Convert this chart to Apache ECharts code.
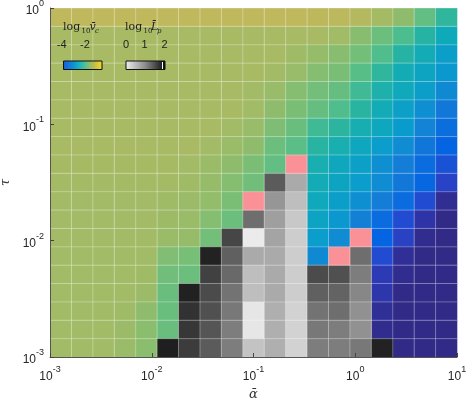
<!DOCTYPE html>
<html>
<head>
<meta charset="utf-8">
<script src="https://cdn.jsdelivr.net/npm/echarts@6/dist/echarts.min.js"></script>
<style>
  html, body { margin: 0; padding: 0; background: #fff; }
  #chart { width: 467px; height: 400px; }
</style>
</head>
<body>
<div id="chart"></div>
<script>
// grid: 19 x 19 log-spaced cells, alpha 1e-3..1e1, tau 1e-3..1e0
const nCol = 19, nRow = 19;
const xLogMin = -3, xLogMax = 1;
const yLogMin = -3, yLogMax = 0;
const xTicks = [0.001, 0.01, 0.1, 1, 10];
const yTicks = [0.001, 0.01, 0.1, 1];

// log10 vc per cell, rows listed from the top (tau = 1) down to tau = 1e-3
// null = cell drawn as Lp (gray) or as a pink marker
const vcRows = [
  [-0.40,-0.40,-0.40,-0.40,-0.40,-0.40,-0.40,-0.40,-0.40,-0.40,-0.40,-0.40,-0.44,-0.48,-0.60,-0.88,-1.28,-1.80,-2.32],
  [-0.80,-0.80,-0.80,-0.80,-0.80,-0.80,-0.80,-0.80,-0.80,-0.80,-0.80,-0.80,-0.80,-0.96,-1.36,-1.68,-2.04,-2.44,-2.80],
  [-0.80,-0.80,-0.80,-0.80,-0.80,-0.80,-0.80,-0.80,-0.80,-0.80,-0.80,-1.00,-1.20,-1.36,-1.60,-2.00,-2.44,-2.76,-3.12],
  [-0.80,-0.80,-0.80,-0.80,-0.80,-0.80,-0.80,-0.80,-0.80,-0.80,-0.92,-1.16,-1.40,-1.52,-1.92,-2.32,-2.72,-2.96,-3.24],
  [-0.80,-0.80,-0.80,-0.80,-0.80,-0.80,-0.80,-0.80,-0.80,-0.92,-1.16,-1.40,-1.60,-1.76,-2.16,-2.56,-2.84,-3.12,-3.44],
  [-0.80,-0.80,-0.80,-0.80,-0.80,-0.80,-0.80,-0.80,-0.80,-0.96,-1.28,-1.52,-1.76,-2.00,-2.40,-2.76,-3.08,-3.36,-3.68],
  [-0.80,-0.80,-0.80,-0.80,-0.80,-0.80,-0.80,-0.80,-0.96,-1.16,-1.48,-1.72,-2.16,-2.36,-2.68,-2.88,-3.20,-3.52,-3.84],
  [-0.80,-0.80,-0.80,-0.80,-0.80,-0.80,-0.80,-0.92,-1.12,-1.28,-1.68,-1.88,-2.40,-2.64,-2.88,-3.16,-3.40,-3.72,-4.00],
  [-0.84,-0.84,-0.84,-0.84,-0.84,-0.84,-0.92,-1.12,-1.28,-1.52,-1.80, null,-2.64,-2.88,-3.08,-3.36,-3.60,-3.88,-4.24],
  [-0.88,-0.88,-0.88,-0.88,-0.88,-0.88,-1.00,-1.20,-1.40,-1.64, null, null,-2.76,-2.96,-3.16,-3.40,-3.68,-3.96,-4.48],
  [-0.92,-0.92,-0.92,-0.92,-0.92,-1.00,-1.08,-1.24,-1.52, null, null, null,-2.84,-3.12,-3.36,-3.60,-3.88,-4.32,-5.08],
  [-0.92,-0.92,-0.92,-0.92,-0.92,-1.04,-1.12,-1.40,-1.68, null, null, null,-3.00,-3.24,-3.56,-3.88,-4.32,-4.88,-5.20],
  [-0.92,-0.92,-0.92,-0.92,-0.92,-1.12,-1.20,-1.60, null, null, null, null,-3.16,-3.40, null,-4.00,-4.52,-5.12,-5.20],
  [-0.96,-0.96,-0.96,-0.96,-0.96,-1.44,-1.56, null, null, null, null, null,-3.44, null, null,-4.32,-5.04,-5.20,-5.20],
  [-0.96,-0.96,-0.96,-0.96,-1.00,-1.64,-1.68, null, null, null, null, null, null, null, null,-4.72,-5.12,-5.20,-5.20],
  [-0.96,-0.96,-0.96,-0.96,-1.08,-1.72, null, null, null, null, null, null, null, null, null,-4.84,-5.20,-5.20,-5.20],
  [-0.96,-0.96,-0.96,-1.00,-1.28,-1.72, null, null, null, null, null, null, null, null, null,-5.04,-5.20,-5.20,-5.20],
  [-0.96,-0.96,-0.96,-1.08,-1.32,-1.72, null, null, null, null, null, null, null, null, null,-5.12,-5.20,-5.20,-5.20],
  [-0.96,-0.96,-0.96,-1.12,-1.32, null, null, null, null, null, null, null, null, null, null, null,-5.20,-5.20,-5.20]
];

// log10 Lp cells: [column, row from top, value]
const lpCells = [
  [5,18,1.76],
  [6,15,1.74],[6,16,1.61],[6,17,1.57],[6,18,1.53],
  [7,13,1.73],[7,14,1.49],[7,15,1.41],[7,16,1.37],[7,17,1.33],[7,18,1.29],
  [8,12,1.45],[8,13,1.25],[8,14,1.18],[8,15,1.10],[8,16,1.06],[8,17,1.02],[8,18,1.02],
  [9,11,1.14],[9,12,0.16],[9,13,0.67],[9,14,0.51],[9,15,0.51],[9,16,0.20],[9,17,0.20],[9,18,0.47],
  [10,9,1.29],[10,10,0.82],[10,11,0.75],[10,12,0.71],[10,13,0.67],[10,14,0.67],[10,15,0.67],[10,16,0.63],[10,17,0.63],[10,18,0.63],
  [11,9,0.67],[11,10,0.51],[11,11,0.43],[11,12,0.39],[11,13,0.39],[11,14,0.39],[11,15,0.39],[11,16,0.35],[11,17,0.35],[11,18,0.35],
  [12,14,1.41],[12,15,1.25],[12,16,1.10],[12,17,1.06],[12,18,1.02],
  [13,14,1.37],[13,15,1.22],[13,16,1.14],[13,17,1.02],[13,18,1.02],
  [14,13,1.14],[14,14,1.02],[14,15,0.94],[14,16,0.86],[14,17,0.86],[14,18,1.06],
  [15,18,1.73]
];

// transition cells (pink): [column, row from top]
const pinkCells = [[11,8],[9,10],[14,12],[13,13]];

const vcRange = [-5.2, -0.4];
const lpRange = [0, 2];
const vcColors = ['#322a87','#2d37af','#2846cd','#0564e1','#147dd7','#0a9bcd','#0faab9',
                  '#28b4a0','#50be8c','#73be78','#96bc69','#a8ba64','#c0b85c'];

function xEdge(i) { return Math.pow(10, xLogMin + (xLogMax - xLogMin) * i / nCol); }
function yEdge(j) { return Math.pow(10, yLogMin + (yLogMax - yLogMin) * j / nRow); }

// data item: [alphaCenter, tauCenter, value, col, rowTop]
function cellItem(col, rowTop, val) {
  const rb = nRow - 1 - rowTop;
  return [Math.sqrt(xEdge(col) * xEdge(col + 1)), Math.sqrt(yEdge(rb) * yEdge(rb + 1)), val, col, rowTop];
}

const vcData = [];
vcRows.forEach(function (row, r) {
  row.forEach(function (v, c) { if (v !== null) vcData.push(cellItem(c, r, v)); });
});
const lpData = lpCells.map(function (d) { return cellItem(d[0], d[1], d[2]); });
const pinkData = pinkCells.map(function (d) { return cellItem(d[0], d[1], 0); });

function renderCell(params, api) {
  const col = api.value(3), rb = nRow - 1 - api.value(4);
  const p0 = api.coord([xEdge(col), yEdge(rb + 1)]);
  const p1 = api.coord([xEdge(col + 1), yEdge(rb)]);
  const line = { stroke: 'rgba(255,255,255,0.32)', lineWidth: 1 };
  return {
    type: 'group',
    children: [
      { type: 'rect', z2: 0,
        shape: { x: p0[0], y: p0[1], width: p1[0] - p0[0] + 0.3, height: p1[1] - p0[1] + 0.3 },
        style: { fill: api.visual('color') } },
      { type: 'line', z2: 10, shape: { x1: p0[0], y1: p0[1], x2: p0[0], y2: p1[1] }, style: line },
      { type: 'line', z2: 10, shape: { x1: p0[0], y1: p0[1], x2: p1[0], y2: p0[1] }, style: line }
    ]
  };
}

const tickFont = 'Liberation Sans, Arial, sans-serif';
const powLabel = {
  formatter: function (v) { return '{b|10}{e|' + Math.round(Math.log10(v)) + '}'; },
  rich: {
    b: { fontSize: 12, fontFamily: tickFont, color: '#262626', lineHeight: 18, verticalAlign: 'bottom' },
    e: { fontSize: 9, fontFamily: tickFont, color: '#262626', lineHeight: 18, verticalAlign: 'top' }
  }
};
const axisCommon = {
  type: 'log',
  logBase: 10,
  z: 10,
  axisLine: { show: true, lineStyle: { color: '#555', width: 1 } },
  axisTick: { show: true, inside: true, length: 4, lineStyle: { color: '#444' } },
  splitLine: { show: false }
};

// inset colour bars
const serif = 'DejaVu Serif, serif';
function txt(x, y, s, size, extra) {
  return { type: 'text', x: x, y: y, z: 20,
    style: Object.assign({ text: s, fontSize: size, fontFamily: serif, fill: '#222',
      align: 'left', verticalAlign: 'middle' }, extra || {}) };
}
function num(x, s) {
  return { type: 'text', x: x, y: 45, z: 20,
    style: { text: s, fontSize: 11, fontFamily: tickFont, fill: '#222', align: 'center', verticalAlign: 'middle' } };
}
const ital = { fontStyle: 'italic' };

const chart = echarts.init(document.getElementById('chart'));
chart.setOption({
  animation: false,
  grid: { left: 50, right: 10, top: 8, bottom: 43, containLabel: false, outerBoundsMode: 'none' },
  xAxis: Object.assign({}, axisCommon, {
    min: xTicks[0], max: xTicks[xTicks.length - 1],
    axisLabel: Object.assign({ margin: 8 }, powLabel),
    name: 'ᾱ', nameLocation: 'middle', nameGap: 22,
    nameTextStyle: { fontFamily: 'DejaVu Serif', fontStyle: 'italic', fontSize: 13, color: '#333' }
  }),
  yAxis: Object.assign({}, axisCommon, {
    min: yTicks[0], max: yTicks[yTicks.length - 1],
    axisLabel: Object.assign({ margin: 6 }, powLabel),
    name: 'τ', nameLocation: 'middle', nameGap: 38,
    nameTextStyle: { fontFamily: 'DejaVu Serif', fontStyle: 'italic', fontSize: 13, color: '#333' }
  }),
  visualMap: [
    { type: 'continuous', show: false, seriesIndex: 0, dimension: 2,
      min: vcRange[0], max: vcRange[1], inRange: { color: vcColors } },
    { type: 'continuous', show: false, seriesIndex: 1, dimension: 2,
      min: lpRange[0], max: lpRange[1], inRange: { color: ['#ffffff', '#000000'] } }
  ],
  series: [
    { type: 'custom', name: 'vc', renderItem: renderCell, data: vcData, encode: { x: 0, y: 1 } },
    { type: 'custom', name: 'Lp', renderItem: renderCell, data: lpData, encode: { x: 0, y: 1 } },
    { type: 'custom', name: 'pink', renderItem: renderCell, data: pinkData, encode: { x: 0, y: 1 },
      itemStyle: { color: '#fa9196' } }
  ],
  graphic: [
    txt(63, 27, 'log', 11),
    txt(81.5, 31.5, '10', 7),
    txt(89.5, 27, 'v̄', 11, ital),
    txt(95, 31.5, 'c', 7, ital),
    txt(125, 27, 'log', 11),
    txt(143.5, 31.5, '10', 7),
    txt(151, 27, 'L̄', 11, ital),
    txt(157, 31.5, 'p', 7, ital),
    num(61.7, '-4'), num(85, '-2'),
    num(126, '0'), num(144.5, '1'), num(164.5, '2'),
    { type: 'rect', z: 20, shape: { x: 63.5, y: 61, width: 38.5, height: 8.5 },
      style: { stroke: '#111', lineWidth: 1,
        fill: new echarts.graphic.LinearGradient(0, 0, 1, 0, [
          { offset: 0, color: '#1c5ae0' }, { offset: 0.25, color: '#0e8fd6' },
          { offset: 0.42, color: '#1ab4c0' }, { offset: 0.58, color: '#5cc08e' },
          { offset: 0.78, color: '#bcbc4c' }, { offset: 1, color: '#fadc22' }]) } },
    { type: 'rect', z: 20, shape: { x: 126, y: 61, width: 39, height: 8.5 },
      style: { stroke: '#111', lineWidth: 1,
        fill: new echarts.graphic.LinearGradient(0, 0, 1, 0, [
          { offset: 0, color: '#efefef' }, { offset: 0.5, color: '#8a8a8a' },
          { offset: 1, color: '#0a0a0a' }]) } },
    { type: 'line', z: 21, shape: { x1: 162.5, y1: 62, x2: 162.5, y2: 69 },
      style: { stroke: '#fff', lineWidth: 1 } }
  ]
});
</script>
</body>
</html>
